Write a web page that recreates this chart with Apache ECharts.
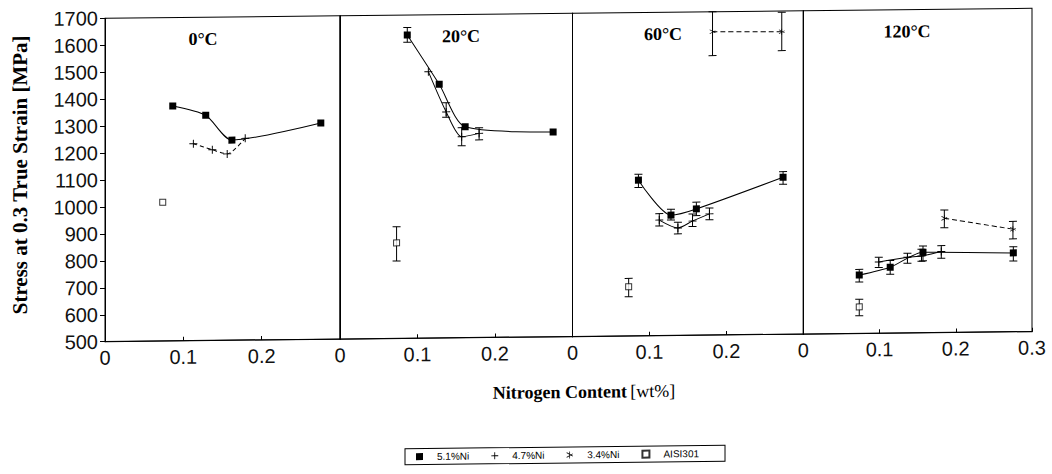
<!DOCTYPE html>
<html>
<head>
<meta charset="utf-8">
<script src="https://cdn.jsdelivr.net/npm/echarts@6/dist/echarts.min.js"></script>
<style>
html, body { margin: 0; background: #fff; }
/* the scan is slightly sheared: right side sits higher */
#chart { width: 1052px; height: 474px; transform: skewY(-0.62deg); transform-origin: 105px 0; }
</style>
</head>
<body>
<div id="chart"></div>
<script>
// panel temperatures
var temps = ['0°C', '20°C', '60°C', '120°C'];
var yTicks = [500, 1700, 100];
var xTicks = [0, 0.3, 0.1];

// one list per panel, point = [N wt%, stress MPa, err low, err high]
var ni51 = [
    [[0.0865, 1372], [0.1286, 1336], [0.162, 1243], [0.2755, 1303]],
    [[0.0868, 1626, 1599, 1654], [0.128, 1442], [0.1615, 1283], [0.275, 1260]],
    [[0.0857, 1078, 1051, 1100], [0.128, 947, 929, 969], [0.161, 969, 944, 994], [0.2737, 1083, 1057, 1104]],
    [[0.0734, 717, 691, 738], [0.114, 745, 719, 770], [0.157, 799, 767, 822], [0.2755, 793, 763, 816]]
];
var ni47 = [
    [[0.1128, 1231], [0.137, 1208], [0.156, 1192], [0.179, 1249]],
    [[0.114, 1489], [0.137, 1339, 1319, 1373], [0.157, 1246, 1213, 1280], [0.1795, 1258, 1234, 1279]],
    [[0.1128, 929, 907, 953], [0.137, 899, 877, 920], [0.156, 924, 904, 950], [0.178, 950, 928, 972]],
    [[0.099, 765, 744, 782], [0.1366, 781, 759, 796], [0.155, 785, 766, 810], [0.181, 801, 776, 823]]
];
var ni34 = [
    [],
    [],
    [[0.182, 1626, 1537, 1700], [0.272, 1623, 1553, 1695]],
    [[0.185, 924, 889, 955], [0.275, 881, 845, 910]]
];
var aisi301 = [
    [[0.0737, 1015]],
    [[0.073, 855, 788, 915]],
    [[0.073, 683, 646, 714]],
    [[0.0734, 599, 566, 627]]
];

var PLUS = 'path://M4.4,0h1.2v4.4h4.4v1.2h-4.4v4.4h-1.2v-4.4h-4.4v-1.2h4.4z';
var STAR = 'path://M4.5,0h1v10h-1z M0.4,2.1l0.5,-0.87l8.7,5l-0.5,0.87z M0.4,7.9l8.7,-5l0.5,0.87l-8.7,5z';

var alloys = [
    {name: '5.1%Ni', pts: ni51, symbol: 'rect', size: 7, line: 'solid', fill: '#000'},
    {name: '4.7%Ni', pts: ni47, symbol: PLUS, size: 8, line: 'solid', fill: '#000'},
    {name: '3.4%Ni', pts: ni34, symbol: STAR, size: 6, line: [5, 3], fill: '#000'},
    {name: 'AISI301', pts: aisi301, symbol: 'rect', size: 6, line: null, fill: '#fff'}
];

var gridPos = [[105, 235], [340, 232.5], [572.5, 230.8], [803.3, 228.7]];
var serif = '"Liberation Serif", "Times New Roman", serif';
var sans = '"Liberation Sans", Arial, sans-serif';

var myChart = echarts.init(document.getElementById('chart'), null, {renderer: 'svg'});

var grids = [], xAxes = [], yAxes = [], series = [];
for (let i = 0; i < temps.length; i++) {
    grids.push({
        left: gridPos[i][0], width: gridPos[i][1], top: 18.3, height: 323.4,
        show: true, borderColor: '#000', borderWidth: 1
    });
    xAxes.push({
        gridIndex: i, type: 'value', min: xTicks[0], max: xTicks[1], interval: xTicks[2],
        axisLine: {show: true, lineStyle: {color: '#000', width: 1}},
        axisTick: {show: true, inside: true, length: 4, lineStyle: {color: '#000'}},
        splitLine: {show: false},
        axisLabel: {
            color: '#111', fontSize: 20, fontFamily: sans, margin: 6,
            formatter: function (v) {
                if (v > 0.25 && i < temps.length - 1) return '';
                return String(parseFloat(v.toFixed(1)));
            }
        }
    });
    yAxes.push({
        gridIndex: i, type: 'value', min: yTicks[0], max: yTicks[1], interval: yTicks[2],
        axisLine: {show: true, lineStyle: {color: '#000', width: 1}},
        axisTick: {show: i === 0, length: 5, lineStyle: {color: '#000'}},
        splitLine: {show: false},
        axisLabel: {
            show: i === 0, color: '#111', fontSize: 20, fontFamily: sans, margin: 7,
            formatter: function (v) { return String(v); }
        }
    });

    var bars = [];
    alloys.forEach(function (a) {
        var pts = a.pts[i];
        if (!pts.length) return;
        pts.forEach(function (p) {
            if (p.length === 4) bars.push([p[0], p[2], p[3]]);
        });
        var lineType = a.line;
        if (a.name === '4.7%Ni' && i === 0) lineType = [4, 3];
        series.push({
            name: a.name,
            type: a.line ? 'line' : 'scatter',
            xAxisIndex: i, yAxisIndex: i,
            data: pts.map(function (p) { return [p[0], p[1]]; }),
            smooth: 0.25,
            symbol: a.symbol,
            symbolSize: a.size,
            itemStyle: {color: a.fill, borderColor: '#000', borderWidth: a.fill === '#fff' ? 1 : 0},
            lineStyle: {color: '#000', width: 1, type: lineType || 'solid'},
            z: 3
        });
    });

    // error bars
    series.push({
        name: 'err' + i,
        type: 'custom',
        xAxisIndex: i, yAxisIndex: i,
        data: bars,
        silent: true,
        z: 2,
        encode: {x: 0, y: [1, 2]},
        renderItem: function (params, api) {
            var top = api.coord([api.value(0), api.value(2)]);
            var bot = api.coord([api.value(0), api.value(1)]);
            var w = 4;
            var st = {stroke: '#000', lineWidth: 1};
            return {
                type: 'group',
                children: [
                    {type: 'line', shape: {x1: top[0], y1: top[1], x2: bot[0], y2: bot[1]}, style: st},
                    {type: 'line', shape: {x1: top[0] - w, y1: top[1], x2: top[0] + w, y2: top[1]}, style: st},
                    {type: 'line', shape: {x1: bot[0] - w, y1: bot[1], x2: bot[0] + w, y2: bot[1]}, style: st}
                ]
            };
        }
    });
}

var titleX = [203, 461, 663, 907];
var graphics = temps.map(function (t, i) {
    return {
        type: 'text', x: titleX[i], y: 40,
        style: {text: t, fontSize: 18, fontWeight: 'bold', fontFamily: serif, fill: '#000',
                align: 'center', verticalAlign: 'middle', textAlign: 'center', textVerticalAlign: 'middle'}
    };
});
graphics.push({
    type: 'text', x: 20, y: 174, rotation: Math.PI / 2,
    style: {text: 'Stress at 0.3 True Strain [MPa]', fontSize: 21, fontWeight: 'bold', fontFamily: serif, fill: '#000',
            align: 'center', verticalAlign: 'middle', textAlign: 'center', textVerticalAlign: 'middle'}
});
graphics.push({
    type: 'text', x: 584, y: 397,
    style: {
        text: '{b|Nitrogen Content} {n|[wt%]}',
        align: 'center', verticalAlign: 'middle', textAlign: 'center', textVerticalAlign: 'middle',
        rich: {
            b: {fontSize: 18, fontWeight: 'bold', fontFamily: serif, fill: '#000', color: '#000'},
            n: {fontSize: 18, fontFamily: serif, fill: '#000', color: '#000'}
        }
    }
});

var option = {
    animation: false,
    backgroundColor: '#fff',
    grid: grids,
    xAxis: xAxes,
    yAxis: yAxes,
    legend: {
        left: 405, top: 452,
        orient: 'horizontal',
        data: [
            {name: '5.1%Ni', icon: 'rect'},
            {name: '4.7%Ni', icon: PLUS},
            {name: '3.4%Ni', icon: STAR},
            {name: 'AISI301', icon: 'rect'}
        ],
        itemWidth: 7, itemHeight: 7, itemGap: 22,
        borderColor: '#000', borderWidth: 1, borderRadius: 0,
        padding: [3, 26, 3, 11],
        textStyle: {fontSize: 10, fontFamily: sans, color: '#000', padding: [0, 0, 0, 9]}
    },
    graphic: graphics,
    series: series
};
myChart.setOption(option);
</script>
</body>
</html>
